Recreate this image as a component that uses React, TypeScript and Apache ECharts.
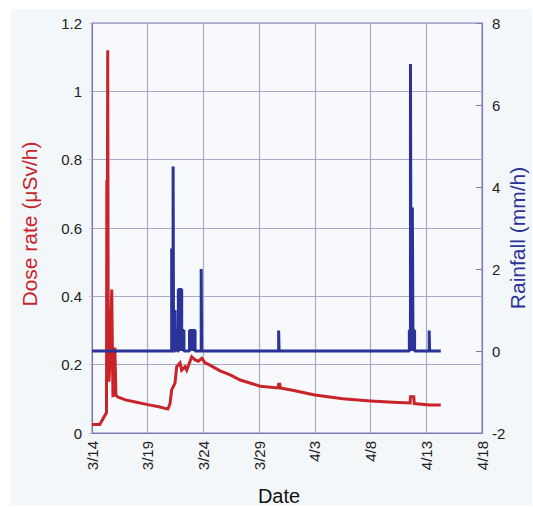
import React, { useEffect, useRef } from 'react';
import * as echarts from 'echarts';

// x values are days after 3/14 00:00
const dateTickLabels = ['3/14', '3/19', '3/24', '3/29', '4/3', '4/8', '4/13', '4/18'];

const doseDays = [0, 0.7, 1.3, 1.33, 1.36, 1.41, 1.46, 1.52, 1.6, 1.77, 1.88, 2.05, 2.15, 2.36, 3, 4, 5, 6, 6.8, 7.0, 7.15, 7.45, 7.6, 7.9, 8.05, 8.35, 8.5, 8.95, 9.25, 9.55, 9.85, 10.15, 10.5, 11.5, 12.4, 13.3, 15.1, 16.7, 16.75, 16.85, 16.9, 18, 20, 22.5, 25, 27, 28.55, 28.58, 28.88, 28.92, 30.3, 31.3];
const doseValues = [0.025, 0.025, 0.06, 0.74, 0.35, 1.12, 0.2, 0.15, 0.2, 0.42, 0.105, 0.25, 0.11, 0.105, 0.097, 0.09, 0.083, 0.077, 0.07, 0.085, 0.126, 0.146, 0.194, 0.205, 0.184, 0.194, 0.184, 0.223, 0.214, 0.21, 0.219, 0.205, 0.2, 0.182, 0.17, 0.155, 0.137, 0.132, 0.143, 0.143, 0.132, 0.125, 0.111, 0.1, 0.094, 0.09, 0.088, 0.106, 0.106, 0.086, 0.082, 0.082];

const rainStart = [7.15, 7.28, 7.45, 7.55, 7.75, 7.9, 8.05, 8.75, 9.0, 9.8, 16.75, 28.48, 28.58, 28.64, 28.75, 28.81, 30.26];
const rainEnd = [7.19, 7.32, 7.5, 7.65, 7.9, 8.05, 8.25, 9.0, 9.25, 9.84, 16.79, 28.58, 28.64, 28.75, 28.81, 28.95, 30.3];
const rainValues = [2.5, 4.5, 1.0, 0.5, 1.5, 1.5, 0.5, 0.5, 0.5, 2.0, 0.5, 0.5, 7.0, 0.5, 3.5, 0.5, 0.5];
const rainRecordStart = 0;
const rainRecordEnd = 31.3;

const FONT = 'Liberation Sans, Arial, Helvetica, sans-serif';
const RED = '#c8242a';
const BLUE = '#2b3399';
const FRAME = '#7d78b6';
const GRID = '#aaaac6';

export default function App() {
  const ref = useRef<HTMLDivElement>(null);
  useEffect(() => {
    const chart = echarts.init(ref.current!, null, { renderer: 'svg' });
    const doseData = doseDays.map((d, i) => [d, doseValues[i]]);
    const rainData: number[][] = [[rainRecordStart, 0]];
    rainStart.forEach((s, i) => {
      rainData.push([s, 0], [s, rainValues[i]], [rainEnd[i], rainValues[i]], [rainEnd[i], 0]);
    });
    rainData.push([rainRecordEnd, 0]);

    const option: any = {
      animation: false,
      backgroundColor: '#ffffff',
      textStyle: { fontFamily: FONT },
      graphic: [
        { type: 'rect', z: -10, shape: { x: 11, y: 9, width: 521, height: 496 }, style: { fill: '#f4f7fa' } },
        {
          type: 'text', x: 29, y: 224, rotation: Math.PI / 2,
          style: { text: 'Dose rate (μSv/h)', fill: RED, font: `21px ${FONT}`, align: 'center', verticalAlign: 'middle', textAlign: 'center', textVerticalAlign: 'middle' },
        },
        {
          type: 'text', x: 517, y: 238, rotation: Math.PI / 2,
          style: { text: 'Rainfall (mm/h)', fill: BLUE, font: `21px ${FONT}`, align: 'center', verticalAlign: 'middle', textAlign: 'center', textVerticalAlign: 'middle' },
        },
        {
          type: 'text', x: 279, y: 496,
          style: { text: 'Date', fill: '#111', font: `20px ${FONT}`, align: 'center', verticalAlign: 'middle', textAlign: 'center', textVerticalAlign: 'middle' },
        },
      ],
      grid: {
        left: 92, right: 51, top: 23, bottom: 74,
        show: true, backgroundColor: '#f7f9fc', borderColor: FRAME, borderWidth: 1,
      },
      xAxis: {
        type: 'value', min: 0, max: 35, interval: 5,
        axisLine: { show: true, lineStyle: { color: FRAME } },
        axisTick: { show: false },
        splitLine: { show: true, lineStyle: { color: GRID, width: 1.2 } },
        axisLabel: {
          rotate: 90, margin: 8, fontSize: 15, color: '#222', fontFamily: FONT,
          formatter: (v: number) => dateTickLabels[Math.round(v / 5)] ?? '',
        },
      },
      yAxis: [
        {
          type: 'value', min: 0, max: 1.2, interval: 0.2,
          axisLine: { show: true, lineStyle: { color: FRAME } },
          axisTick: { show: true, inside: false, length: 3, lineStyle: { color: '#c8c8dc' } },
          splitLine: { show: true, lineStyle: { color: GRID, width: 1.2 } },
          axisLabel: { margin: 10, fontSize: 15, color: '#222', fontFamily: FONT, formatter: (v: number) => String(Math.round(v * 10) / 10) },
        },
        {
          type: 'value', min: -2, max: 8, interval: 2, position: 'right',
          axisLine: { show: true, lineStyle: { color: FRAME } },
          axisTick: { show: true, inside: true, length: 6, lineStyle: { color: FRAME } },
          splitLine: { show: false },
          axisLabel: { margin: 10, fontSize: 15, color: '#222', fontFamily: FONT },
        },
      ],
      series: [
        {
          type: 'line', yAxisIndex: 0, data: doseData, showSymbol: false, symbol: 'none',
          lineStyle: { color: RED, width: 3, join: 'miter' }, z: 2,
        },
        {
          type: 'line', yAxisIndex: 1, data: rainData, showSymbol: false, symbol: 'none',
          lineStyle: { color: BLUE, width: 3 }, z: 3,
        },
      ],
    };
    chart.setOption(option);
    return () => chart.dispose();
  }, []);
  return <div ref={ref} style={{ position: 'fixed', left: 0, top: 0, width: 533, height: 507 }} />;
}
